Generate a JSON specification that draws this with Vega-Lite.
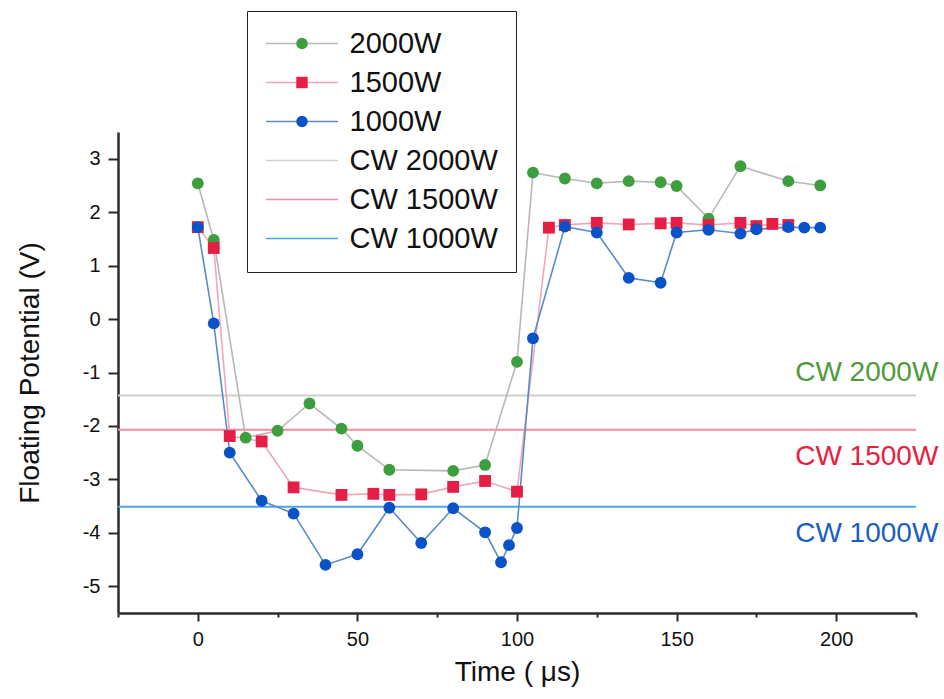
{
  "$schema": "https://vega.github.io/schema/vega-lite/v6.json",
  "width": 798,
  "height": 481,
  "autosize": {"type": "none"},
  "padding": {"left": 118, "top": 132, "right": 28, "bottom": 86},
  "background": "white",
  "config": {
    "view": {"stroke": null},
    "font": "Liberation Sans",
    "axis": {
      "grid": false,
      "domainColor": "#2b2b2b",
      "domainWidth": 2.5,
      "tickColor": "#2b2b2b",
      "tickWidth": 2,
      "labelFont": "Liberation Sans",
      "labelFontSize": 20,
      "labelColor": "#111",
      "titleFont": "Liberation Sans",
      "titleFontSize": 28,
      "titleFontWeight": "normal",
      "titleColor": "#111"
    }
  },
  "datasets": {
    "runs": [
      {"time": 0, "potential": 2.54, "series": "2000W"},
      {"time": 5, "potential": 1.48, "series": "2000W"},
      {"time": 15, "potential": -2.22, "series": "2000W"},
      {"time": 25, "potential": -2.09, "series": "2000W"},
      {"time": 35, "potential": -1.58, "series": "2000W"},
      {"time": 45, "potential": -2.05, "series": "2000W"},
      {"time": 50, "potential": -2.37, "series": "2000W"},
      {"time": 60, "potential": -2.82, "series": "2000W"},
      {"time": 80, "potential": -2.84, "series": "2000W"},
      {"time": 90, "potential": -2.73, "series": "2000W"},
      {"time": 100, "potential": -0.8, "series": "2000W"},
      {"time": 105, "potential": 2.74, "series": "2000W"},
      {"time": 115, "potential": 2.63, "series": "2000W"},
      {"time": 125, "potential": 2.54, "series": "2000W"},
      {"time": 135, "potential": 2.58, "series": "2000W"},
      {"time": 145, "potential": 2.56, "series": "2000W"},
      {"time": 150, "potential": 2.49, "series": "2000W"},
      {"time": 160, "potential": 1.88, "series": "2000W"},
      {"time": 170, "potential": 2.86, "series": "2000W"},
      {"time": 185, "potential": 2.58, "series": "2000W"},
      {"time": 195, "potential": 2.5, "series": "2000W"},
      {"time": 0, "potential": 1.72, "series": "1500W"},
      {"time": 5, "potential": 1.33, "series": "1500W"},
      {"time": 10, "potential": -2.19, "series": "1500W"},
      {"time": 20, "potential": -2.29, "series": "1500W"},
      {"time": 30, "potential": -3.15, "series": "1500W"},
      {"time": 45, "potential": -3.29, "series": "1500W"},
      {"time": 55, "potential": -3.27, "series": "1500W"},
      {"time": 60, "potential": -3.29, "series": "1500W"},
      {"time": 70, "potential": -3.28, "series": "1500W"},
      {"time": 80, "potential": -3.14, "series": "1500W"},
      {"time": 90, "potential": -3.03, "series": "1500W"},
      {"time": 100, "potential": -3.23, "series": "1500W"},
      {"time": 110, "potential": 1.71, "series": "1500W"},
      {"time": 115, "potential": 1.76, "series": "1500W"},
      {"time": 125, "potential": 1.8, "series": "1500W"},
      {"time": 135, "potential": 1.77, "series": "1500W"},
      {"time": 145, "potential": 1.79, "series": "1500W"},
      {"time": 150, "potential": 1.8, "series": "1500W"},
      {"time": 160, "potential": 1.76, "series": "1500W"},
      {"time": 170, "potential": 1.8, "series": "1500W"},
      {"time": 175, "potential": 1.74, "series": "1500W"},
      {"time": 180, "potential": 1.78, "series": "1500W"},
      {"time": 185, "potential": 1.76, "series": "1500W"},
      {"time": 0, "potential": 1.72, "series": "1000W"},
      {"time": 5, "potential": -0.08, "series": "1000W"},
      {"time": 10, "potential": -2.5, "series": "1000W"},
      {"time": 20, "potential": -3.4, "series": "1000W"},
      {"time": 30, "potential": -3.64, "series": "1000W"},
      {"time": 40, "potential": -4.6, "series": "1000W"},
      {"time": 50, "potential": -4.4, "series": "1000W"},
      {"time": 60, "potential": -3.53, "series": "1000W"},
      {"time": 70, "potential": -4.19, "series": "1000W"},
      {"time": 80, "potential": -3.54, "series": "1000W"},
      {"time": 90, "potential": -3.99, "series": "1000W"},
      {"time": 95, "potential": -4.55, "series": "1000W"},
      {"time": 97.5, "potential": -4.23, "series": "1000W"},
      {"time": 100, "potential": -3.91, "series": "1000W"},
      {"time": 105, "potential": -0.36, "series": "1000W"},
      {"time": 115, "potential": 1.73, "series": "1000W"},
      {"time": 125, "potential": 1.62, "series": "1000W"},
      {"time": 135, "potential": 0.77, "series": "1000W"},
      {"time": 145, "potential": 0.68, "series": "1000W"},
      {"time": 150, "potential": 1.62, "series": "1000W"},
      {"time": 160, "potential": 1.67, "series": "1000W"},
      {"time": 170, "potential": 1.6, "series": "1000W"},
      {"time": 175, "potential": 1.68, "series": "1000W"},
      {"time": 185, "potential": 1.72, "series": "1000W"},
      {"time": 190, "potential": 1.71, "series": "1000W"},
      {"time": 195, "potential": 1.71, "series": "1000W"}
    ],
    "cw": [
      {"series": "CW 2000W", "potential": -1.43},
      {"series": "CW 1500W", "potential": -2.07},
      {"series": "CW 1000W", "potential": -3.51}
    ]
  },
  "layer": [
    {
      "data": {"name": "cw"},
      "mark": {"type": "rule", "strokeWidth": 2},
      "encoding": {
        "y": {
          "field": "potential",
          "type": "quantitative",
          "scale": {"domain": [-5.5, 3.5], "nice": false, "zero": false},
          "axis": {
            "values": [-5, -4.5, -4, -3.5, -3, -2.5, -2, -1.5, -1, -0.5, 0, 0.5, 1, 1.5, 2, 2.5, 3, 3.5],
            "labelExpr": "datum.value % 1 === 0 ? '' + datum.value : ''",
            "tickSize": {"condition": {"test": "datum.value % 1 === 0", "value": 10}, "value": 5},
            "labelPadding": 8,
            "title": "Floating Potential (V)",
            "titlePadding": 38
          }
        },
        "color": {
          "field": "series",
          "type": "nominal",
          "scale": {
            "domain": ["2000W", "1500W", "1000W", "CW 2000W", "CW 1500W", "CW 1000W"],
            "range": ["#b8b8b8", "#f4a6b8", "#5a8cc8", "#cfcfca", "#ee8ea4", "#4ea6e6"]
          },
          "legend": {
            "title": null,
            "orient": "none",
            "legendX": 129,
            "legendY": -121,
            "symbolType": "M-3.6,0H3.6",
            "symbolSize": 400,
            "symbolOffset": 22.5,
            "symbolStrokeWidth": 1.6,
            "symbolOpacity": 1,
            "labelFont": "Liberation Sans",
            "labelFontSize": 29,
            "labelColor": "#111",
            "labelOffset": 33,
            "labelLimit": 400,
            "rowPadding": 9,
            "padding": 18,
            "strokeColor": "#222",
            "fillColor": "white"
          }
        }
      }
    },
    {
      "data": {"name": "runs"},
      "mark": {"type": "line", "strokeWidth": 1.6},
      "encoding": {
        "x": {
          "field": "time",
          "type": "quantitative",
          "scale": {"domain": [-25, 225], "nice": false, "zero": false},
          "axis": {
            "values": [-25, 0, 25, 50, 75, 100, 125, 150, 175, 200, 225],
            "labelExpr": "datum.value % 50 === 0 && datum.value >= 0 && datum.value <= 200 ? '' + datum.value : ''",
            "tickSize": {"condition": {"test": "datum.value % 50 === 0", "value": 8}, "value": 4},
            "labelPadding": 8,
            "title": "Time ( μs)",
            "titlePadding": 9
          }
        },
        "y": {"field": "potential", "type": "quantitative"},
        "color": {"field": "series", "type": "nominal"},
        "order": {"field": "time", "type": "quantitative"}
      }
    },
    {
      "data": {"name": "runs"},
      "mark": {"type": "point", "filled": true, "opacity": 1, "size": 140},
      "encoding": {
        "x": {"field": "time", "type": "quantitative"},
        "y": {"field": "potential", "type": "quantitative"},
        "fill": {
          "field": "series",
          "type": "nominal",
          "scale": {
            "domain": ["2000W", "1500W", "1000W"],
            "range": ["#3c9e3c", "#e61e46", "#0a52c8"]
          },
          "legend": {
            "title": null,
            "orient": "none",
            "legendX": 129,
            "legendY": -121,
            "symbolSize": 130,
            "symbolOffset": 22.5,
            "symbolStrokeWidth": 0,
            "labelFont": "Liberation Sans",
            "labelFontSize": 29,
            "labelColor": "rgba(0,0,0,0)",
            "labelOffset": 33,
            "labelLimit": 400,
            "rowPadding": 9,
            "padding": 18
          }
        },
        "shape": {
          "field": "series",
          "type": "nominal",
          "scale": {
            "domain": ["2000W", "1500W", "1000W"],
            "range": ["circle", "square", "circle"]
          },
          "legend": {
            "title": null,
            "orient": "none",
            "legendX": 129,
            "legendY": -121,
            "symbolSize": 130,
            "symbolOffset": 22.5,
            "symbolStrokeWidth": 0,
            "labelFont": "Liberation Sans",
            "labelFontSize": 29,
            "labelColor": "rgba(0,0,0,0)",
            "labelOffset": 33,
            "labelLimit": 400,
            "rowPadding": 9,
            "padding": 18
          }
        }
      }
    },
    {
      "data": {"name": "cw"},
      "transform": [{"filter": "datum.series === 'CW 2000W'"}],
      "mark": {"type": "text", "align": "right", "baseline": "middle", "fontSize": 28, "font": "Liberation Sans", "color": "#4f9a3c"},
      "encoding": {
        "x": {"datum": 232, "type": "quantitative"},
        "y": {"datum": -1.0, "type": "quantitative"},
        "text": {"field": "series"}
      }
    },
    {
      "data": {"name": "cw"},
      "transform": [{"filter": "datum.series === 'CW 1500W'"}],
      "mark": {"type": "text", "align": "right", "baseline": "middle", "fontSize": 28, "font": "Liberation Sans", "color": "#e8203f"},
      "encoding": {
        "x": {"datum": 232, "type": "quantitative"},
        "y": {"datum": -2.575, "type": "quantitative"},
        "text": {"field": "series"}
      }
    },
    {
      "data": {"name": "cw"},
      "transform": [{"filter": "datum.series === 'CW 1000W'"}],
      "mark": {"type": "text", "align": "right", "baseline": "middle", "fontSize": 28, "font": "Liberation Sans", "color": "#1a5fc0"},
      "encoding": {
        "x": {"datum": 232, "type": "quantitative"},
        "y": {"datum": -4.02, "type": "quantitative"},
        "text": {"field": "series"}
      }
    }
  ]
}
